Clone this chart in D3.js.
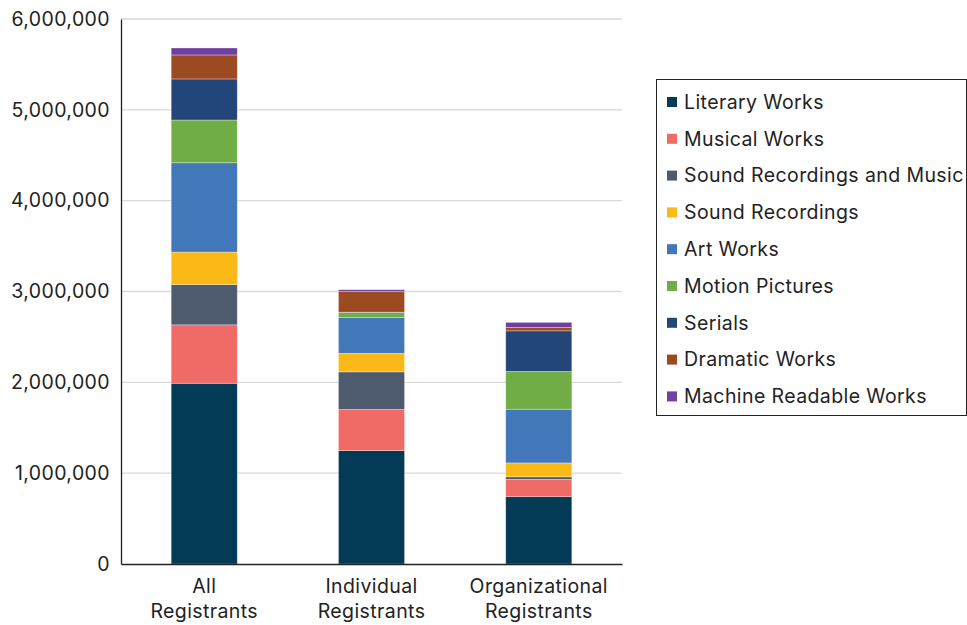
<!DOCTYPE html>
<html>
<head>
<meta charset="utf-8">
<script src="https://cdn.jsdelivr.net/npm/d3@7"></script>
<style>
  html, body { margin: 0; padding: 0; background: #fff; }
  svg { display: block; font-family: "Inter", "Noto Sans", sans-serif; }
  svg text { letter-spacing: 0.4px; }
</style>
</head>
<body>
<svg id="chart" width="967" height="625"></svg>
<script>
// Registrant groups along the x axis (label lines)
const categories = ["All Registrants", "Individual Registrants", "Organizational Registrants"];
const categoryLines = [["All", "Registrants"], ["Individual", "Registrants"], ["Organizational", "Registrants"]];

// Work types, stacked bottom to top
const workTypes = [
  "Literary Works", "Musical Works", "Sound Recordings and Music", "Sound Recordings",
  "Art Works", "Motion Pictures", "Serials", "Dramatic Works", "Machine Readable Works"
];
const colors = ["#033a56", "#f06a66", "#4e5a6e", "#fbb917", "#4277b9", "#70ad47", "#23467a", "#9c4a21", "#7040a0"];

// Registrations per work type, one array per registrant group
const allRegistrants = [1990000, 643000, 443000, 358000, 983000, 471000, 452000, 264000, 77000];
const individualRegistrants = [1248000, 453000, 414000, 205000, 392000, 55000, 5000, 227000, 21000];
const organizationalRegistrants = [741000, 190000, 29000, 153000, 591000, 416000, 447000, 37000, 56000];

const yTicks = [0, 1000000, 2000000, 3000000, 4000000, 5000000, 6000000];

const groupValues = [allRegistrants, individualRegistrants, organizationalRegistrants];
const rows = categories.map((c, i) => {
  const row = { category: c };
  workTypes.forEach((w, j) => { row[w] = groupValues[i][j]; });
  return row;
});

const svg = d3.select("#chart");
const margin = { left: 121, right: 345, top: 19, bottom: 61 };
const W = 967, H = 625;
const fontSize = 19.5;

const x = d3.scaleBand().domain(categories)
  .range([margin.left, W - margin.right]).paddingInner(0.605).paddingOuter(0.3);
const y = d3.scaleLinear().domain([0, 6000000]).range([H - margin.bottom, margin.top]);

// gridlines
svg.append("g")
  .selectAll("line").data(yTicks.filter(d => d > 0)).join("line")
  .attr("x1", margin.left).attr("x2", W - margin.right)
  .attr("y1", d => y(d)).attr("y2", d => y(d))
  .attr("stroke", "#d9d9d9").attr("stroke-width", 1.3);

// stacked bars
const stack = d3.stack().keys(workTypes);
const series = stack(rows);
svg.append("g").selectAll("g").data(series).join("g")
  .attr("fill", (d, i) => colors[i])
  .selectAll("rect").data(d => d).join("rect")
  .attr("x", d => x(d.data.category))
  .attr("width", x.bandwidth())
  .attr("y", d => y(d[1]))
  .attr("height", d => Math.max(0, y(d[0]) - y(d[1])))
  .attr("stroke", "rgba(255,255,255,0.45)").attr("stroke-width", 0.7);

// y axis
const yAxis = d3.axisLeft(y).tickValues(yTicks).tickFormat(d3.format(",")).tickSize(0).tickPadding(11);
const gy = svg.append("g").attr("transform", `translate(${margin.left},0)`).call(yAxis);
gy.select(".domain").attr("stroke", "#222").attr("stroke-width", 1.3);
gy.selectAll("text").attr("font-size", fontSize).attr("fill", "#222").attr("font-family", "Inter, sans-serif");

// x axis baseline
const xAxis = d3.axisBottom(x).tickSize(0).tickFormat("");
const gx = svg.append("g").attr("transform", `translate(0,${y(0)})`).call(xAxis);
gx.select(".domain").attr("stroke", "#222").attr("stroke-width", 1.3);

// category labels (two lines)
svg.append("g").selectAll("text").data(categories).join("text")
  .attr("x", d => x(d) + x.bandwidth() / 2)
  .attr("y", 593)
  .attr("text-anchor", "middle")
  .attr("font-size", fontSize).attr("fill", "#222")
  .each(function(d, i) {
    const t = d3.select(this);
    categoryLines[i].forEach((line, k) => {
      t.append("tspan").attr("x", x(d) + x.bandwidth() / 2).attr("dy", k === 0 ? 0 : 25).text(line);
    });
  });

// legend
const legend = svg.append("g");
legend.append("rect")
  .attr("x", 656.5).attr("y", 79.5).attr("width", 310).attr("height", 336)
  .attr("fill", "#fff").attr("stroke", "#222").attr("stroke-width", 1);
const items = legend.selectAll("g.item").data(workTypes).join("g").attr("class", "item")
  .attr("transform", (d, i) => `translate(667,${102 + i * 36.8})`);
items.append("rect").attr("x", 0).attr("y", -5).attr("width", 10).attr("height", 10)
  .attr("fill", (d, i) => colors[i]);
items.append("text").attr("x", 17).attr("y", 0).attr("dy", "0.35em")
  .attr("font-size", fontSize).attr("fill", "#222").text(d => d);
</script>
</body>
</html>
